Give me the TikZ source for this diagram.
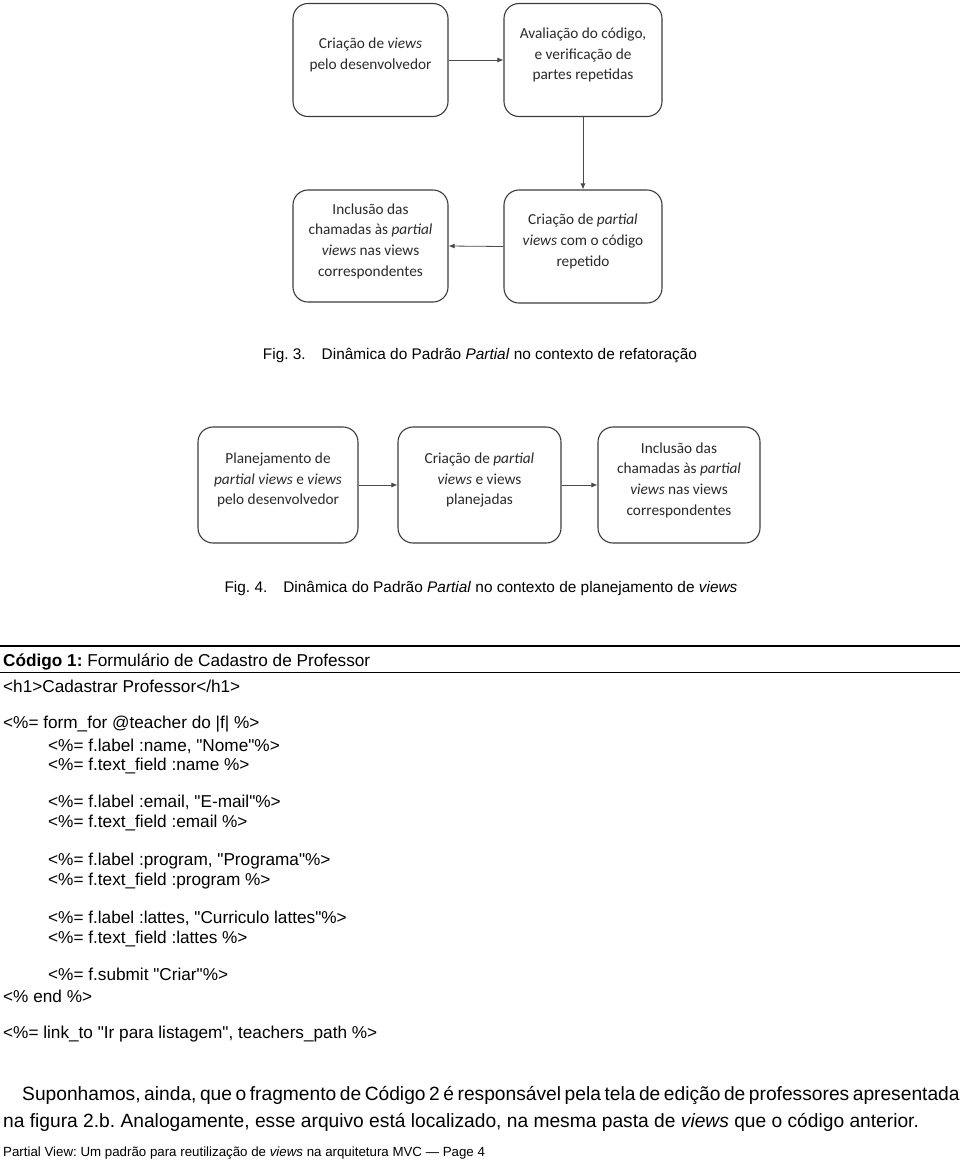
\documentclass[tikz,border=0pt]{standalone}
\usepackage{fontspec}
\setmainfont{Liberation Sans}[Ligatures=TeXOff]
\newfontfamily\boxfont{Carlito}
\usetikzlibrary{arrows.meta}
\definecolor{boxc}{HTML}{3C3C3C}
\definecolor{arrc}{HTML}{4A4A4A}
\definecolor{btxt}{HTML}{2A2A2A}
\frenchspacing
\begin{document}
\begin{tikzpicture}[x=1pt,y=-1pt,
  box/.style={draw=boxc, line width=1.1pt, rounded corners=15pt, minimum width=156pt, minimum height=113pt, inner sep=0pt},
  boxtxt/.style={font=\boxfont\fontsize{15.3}{20.7}\selectfont, text=btxt, align=center, inner sep=0pt, yshift=5pt},
  arr/.style={draw=arrc, line width=0.8pt, -{Latex[length=6pt,width=5pt]}},
  code/.style={font=\fontsize{17.2}{20.6}\selectfont, anchor=base west, inner sep=0pt},
  figcap/.style={font=\fontsize{15.4}{18}\selectfont, anchor=base, inner sep=0pt},
  para/.style={font=\fontsize{19.2}{23}\selectfont, anchor=base west, inner sep=0pt},
  foot/.style={font=\fontsize{13.3}{16}\selectfont, anchor=base west, inner sep=0pt}
]
\useasboundingbox (0,0) rectangle (960,1160);
\fill[white] (0,0) rectangle (960,1160);

% ---------- Fig. 3 ----------
\node[box, minimum width=155pt] (A) at (370.5,60) {};
\node[box, minimum width=158pt] (B) at (583,60) {};
\node[box, minimum width=155pt, minimum height=112pt] (C) at (370.5,246) {};
\node[box, minimum width=158pt] (D) at (583,246.5) {};
\node[boxtxt] (At) at (A) {Criação de \textit{views}\\pelo desenvolvedor};
\node[boxtxt] (Bt) at (B) {Avaliação do código,\\e verificação de\\partes repetidas};
\node[boxtxt] (Ct) at (C) {Inclusão das\\chamadas às \textit{partial}\\\textit{views} nas views\\correspondentes};
\node[boxtxt] (Dt) at (D) {Criação de \textit{partial}\\\textit{views} com o código\\repetido};
\draw[arr] (A.east) -- (B.west);
\draw[arr] (B.south) -- (D.north);
\draw[arr] (D.west) -- (C.east);

\node[figcap] (cap3) at (480,359) {Fig. 3.\hspace{16pt}Dinâmica do Padrão \textit{Partial} no contexto de refatoração};

% ---------- Fig. 4 ----------
\node[box, minimum width=160pt, minimum height=116pt] (E) at (278,485) {};
\node[box, minimum width=163pt, minimum height=116pt] (F) at (479.5,485) {};
\node[box, minimum width=162pt, minimum height=116pt] (G) at (679,485) {};
\node[boxtxt] (Et) at (E) {Planejamento de\\\textit{partial views} e \textit{views}\\pelo desenvolvedor};
\node[boxtxt] (Ft) at (F) {Criação de \textit{partial}\\\textit{views} e views\\planejadas};
\node[boxtxt] (Gt) at (G) {Inclusão das\\chamadas às \textit{partial}\\\textit{views} nas views\\correspondentes};
\draw[arr] (E.east) -- (F.west);
\draw[arr] (F.east) -- (G.west);

\node[figcap] (cap4) at (481,592) {Fig. 4.\hspace{16pt}Dinâmica do Padrão \textit{Partial} no contexto de planejamento de \textit{views}};

% ---------- Código 1 ----------
\coordinate (r1l) at (0,645.5);
\coordinate (r1r) at (960,645.5);
\coordinate (r2l) at (0,672.5);
\coordinate (r2r) at (960,672.5);
\draw[line width=2pt] (r1l) -- (r1r);
\draw[line width=1.4pt] (r2l) -- (r2r);

\node[code] (c0) at (3,666) {\textbf{Código 1:} Formulário de Cadastro de Professor};
\node[code] (c1) at (3,692) {<h1>Cadastrar Professor</h1>};
\node[code] (c2) at (3,728) {<\%= form\_for @teacher do |f| \%>};
\node[code] (c3) at (48,751) {<\%= f.label :name, "Nome"\%>};
\node[code] (c4) at (48,770) {<\%= f.text\_field :name \%>};
\node[code] (c5) at (48,807) {<\%= f.label :email, "E-mail"\%>};
\node[code] (c6) at (48,827) {<\%= f.text\_field :email \%>};
\node[code] (c7) at (48,865) {<\%= f.label :program, "Programa"\%>};
\node[code] (c8) at (48,885) {<\%= f.text\_field :program \%>};
\node[code] (c9) at (48,923) {<\%= f.label :lattes, "Curriculo lattes"\%>};
\node[code] (c10) at (48,943) {<\%= f.text\_field :lattes \%>};
\node[code] (c11) at (48,980) {<\%= f.submit "Criar"\%>};
\node[code] (c12) at (3,1002) {<\% end \%>};
\node[code] (c13) at (3,1038) {<\%= link\_to "Ir para listagem", teachers\_path \%>};

% ---------- paragraph ----------
\node[para] (p1) at (22,1100) {\makebox[936pt][s]{Suponhamos, ainda, que o fragmento de Código 2 é responsável pela tela de edição de professores apresentada}};
\node[para] (p2) at (3,1127) {na figura 2.b. Analogamente, esse arquivo está localizado, na mesma pasta de \textit{views} que o código anterior.};

\node[foot] (ft) at (3,1156) {Partial View: Um padrão para reutilização de \textit{views} na arquitetura MVC — Page 4};
\end{tikzpicture}
\end{document}
